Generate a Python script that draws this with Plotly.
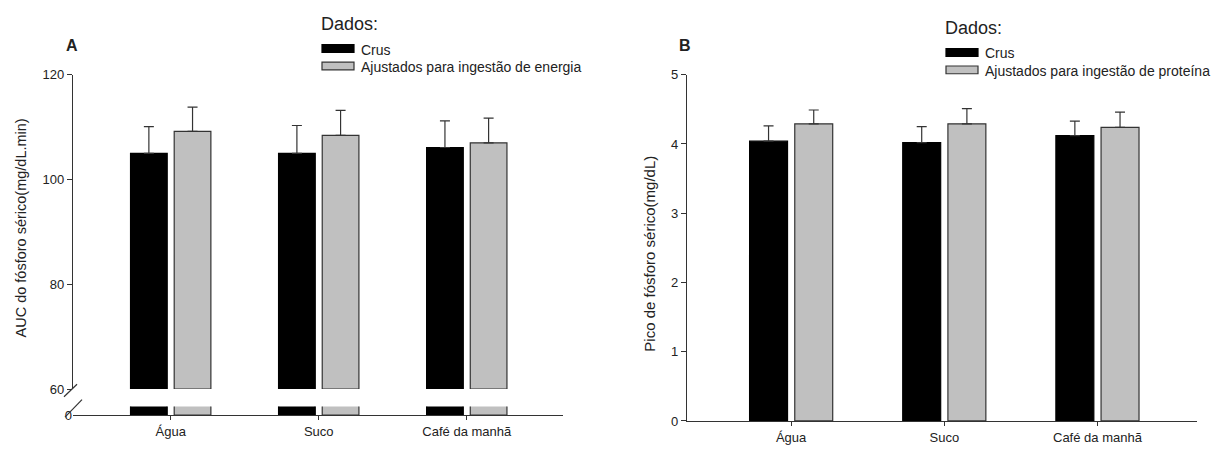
import plotly.graph_objects as go

# ---- data ----
categories = ["Água", "Suco", "Café da manhã"]
series_names_a = ["Crus", "Ajustados para ingestão de energia"]
series_names_b = ["Crus", "Ajustados para ingestão de proteína"]

auc_crus = [105.0, 105.0, 106.1]
auc_crus_err = [5.1, 5.3, 5.1]
auc_ajust = [109.2, 108.4, 107.0]
auc_ajust_err = [4.6, 4.8, 4.7]

pico_crus = [4.04, 4.02, 4.12]
pico_crus_err = [0.22, 0.23, 0.21]
pico_ajust = [4.29, 4.29, 4.24]
pico_ajust_err = [0.20, 0.22, 0.22]

y_ticks_a_upper = [60, 80, 100, 120]
y_ticks_a_lower = [0]
y_ticks_b = [0, 1, 2, 3, 4, 5]
break_at = 60  # start of upper segment of the broken axis

# ---- style ----
W, H = 1229, 457
FONT = "Liberation Sans, Arial, sans-serif"
TXT = "#222222"
AX = "#333333"
fills = ["#000000", "#c0c0c0"]
lines = ["#000000", "#333333"]


def fx(p):
    return p / W


def fy(q):
    return 1 - q / H


fig = go.Figure()

# Panel A upper segment (bars start at the axis break)
for i, (vals, errs) in enumerate([(auc_crus, auc_crus_err), (auc_ajust, auc_ajust_err)]):
    fig.add_trace(go.Bar(
        x=categories, y=[v - break_at for v in vals], base=break_at,
        name=series_names_a[i], xaxis="x", yaxis="y",
        marker=dict(color=fills[i], line=dict(color=lines[i], width=1.2)),
        error_y=dict(type="data", symmetric=False, array=errs, arrayminus=[0] * len(errs),
                     color=AX, thickness=1.2, width=5),
        showlegend=False))
# Panel A lower stub
for i, vals in enumerate([auc_crus, auc_ajust]):
    fig.add_trace(go.Bar(
        x=categories, y=vals, name=series_names_a[i], xaxis="x", yaxis="y2",
        marker=dict(color=fills[i], line=dict(color=lines[i], width=1.2)),
        showlegend=False))

# Panel B
for i, (vals, errs) in enumerate([(pico_crus, pico_crus_err), (pico_ajust, pico_ajust_err)]):
    fig.add_trace(go.Bar(
        x=categories, y=vals, name=series_names_b[i], xaxis="x2", yaxis="y3",
        marker=dict(color=fills[i], line=dict(color=lines[i], width=1.2)),
        error_y=dict(type="data", symmetric=False, array=errs, arrayminus=[0] * len(errs),
                     color=AX, thickness=1.2, width=5),
        showlegend=False))

tickfont = dict(family=FONT, size=13, color=TXT)
common_x = dict(type="category", showline=True, linecolor=AX, linewidth=1.2,
                ticks="outside", ticklen=4, tickcolor=AX, tickfont=tickfont,
                showgrid=False, zeroline=False)
common_y = dict(showgrid=False, zeroline=False, tickfont=tickfont, tickcolor=AX)

fig.update_layout(
    width=W, height=H, autosize=False,
    margin=dict(l=0, r=0, t=0, b=0),
    paper_bgcolor="white", plot_bgcolor="rgba(0,0,0,0)",
    barmode="group", bargap=0.41, bargroupgap=0.16,
    font=dict(family=FONT, color=TXT),
    xaxis=dict(domain=[fx(73), fx(563)], anchor="y2", range=[-0.66, 2.65], **common_x),
    yaxis=dict(domain=[fy(395), fy(70)], anchor="x", range=[60, 120],
               tickvals=y_ticks_a_upper, showline=True, linecolor=AX, linewidth=1.2,
               ticks="outside", ticklen=5, **common_y),
    yaxis2=dict(domain=[fy(422), fy(413)], anchor="x", range=[0, 1.5],
                tickvals=y_ticks_a_lower, showline=False, ticks="", **common_y),
    xaxis2=dict(domain=[fx(687), fx(1197)], anchor="y3", range=[-0.68, 2.65], **common_x),
    yaxis3=dict(domain=[fy(428), fy(70)], anchor="x2", range=[0, 5],
                tickvals=y_ticks_b, showline=True, linecolor=AX, linewidth=1.2,
                ticks="outside", ticklen=5, **common_y),
)

shapes = []
# axis break slashes (panel A)
for (x0, y0, x1, y1) in [(64, 403, 77, 390), (65, 424, 82, 406)]:
    shapes.append(dict(type="line", xref="paper", yref="paper",
                       x0=fx(x0), y0=fy(y0), x1=fx(x1), y1=fy(y1),
                       line=dict(color=AX, width=1.2)))

annotations = []
# legends (manual)
legend_specs = [
    (322, 18, 39, series_names_a),
    (946, 22, 43, series_names_b),
]
for (lx, ty, sy, names) in legend_specs:
    annotations.append(dict(text="Dados:", xref="paper", yref="paper", x=fx(lx - 3), y=fy(ty),
                            xanchor="left", yanchor="middle", showarrow=False,
                            font=dict(family=FONT, size=18, color=TXT)))
    for k, nm in enumerate(names):
        top = sy + k * 18
        shapes.append(dict(type="rect", xref="paper", yref="paper",
                           x0=fx(lx), x1=fx(lx + 32), y0=fy(top + 8), y1=fy(top),
                           fillcolor=fills[k], line=dict(color=lines[k], width=1.2)))
        annotations.append(dict(text=nm, xref="paper", yref="paper", x=fx(lx + 37), y=fy(top + 5),
                                xanchor="left", yanchor="middle", showarrow=False,
                                font=dict(family=FONT, size=14, color=TXT)))

# panel letters
for lab, px_ in [("A", 72), ("B", 685)]:
    annotations.append(dict(text="<b>%s</b>" % lab, xref="paper", yref="paper", x=fx(px_), y=fy(40),
                            xanchor="center", yanchor="middle", showarrow=False,
                            font=dict(family=FONT, size=16, color=TXT)))

# y titles
annotations.append(dict(text="AUC do fósforo sérico(mg/dL.min)", xref="paper", yref="paper",
                        x=fx(21), y=fy(229), textangle=-90, xanchor="center", yanchor="middle",
                        showarrow=False, font=dict(family=FONT, size=14.5, color=TXT)))
annotations.append(dict(text="Pico de fósforo sérico(mg/dL)", xref="paper", yref="paper",
                        x=fx(650), y=fy(255), textangle=-90, xanchor="center", yanchor="middle",
                        showarrow=False, font=dict(family=FONT, size=15, color=TXT)))

fig.update_layout(shapes=shapes, annotations=annotations)
fig.write_html("out.html")
